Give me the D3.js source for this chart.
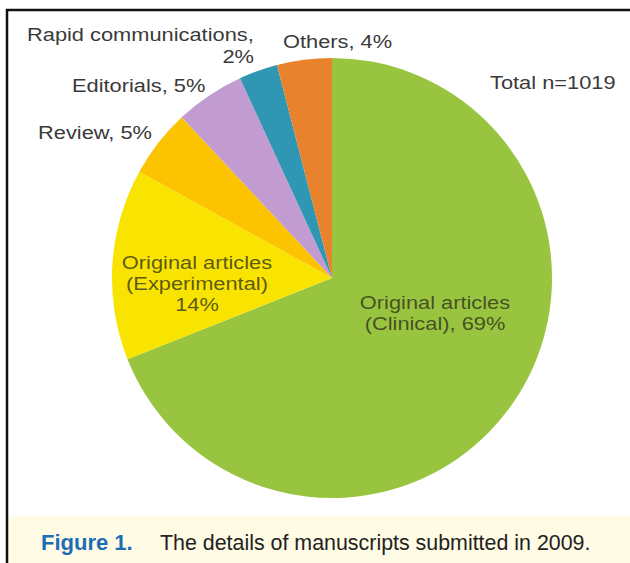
<!DOCTYPE html>
<html>
<head>
<meta charset="utf-8">
<script src="https://cdn.jsdelivr.net/npm/d3@7"></script>
<style>
  html, body { margin: 0; padding: 0; background: #fff; }
  svg { display: block; }
</style>
</head>
<body>
<svg id="chart" width="630" height="563"></svg>
<script>
// Data (n = 1019, slice sizes estimated from the angles)
const categories = ["Original articles (Clinical)", "Original articles (Experimental)", "Review", "Editorials", "Rapid communications", "Others"];
const counts = [703, 143, 51, 52, 29, 41];
const percentLabels = ["69%", "14%", "5%", "5%", "2%", "4%"];
const colors = ["#98c43f", "#f8e400", "#fcc300", "#c29bd0", "#2f96b3", "#e8822c"];
const labelLines = [
  ["Original articles", "(Clinical), 69%"],
  ["Original articles", "(Experimental)", "14%"],
  ["Review, 5%"],
  ["Editorials, 5%"],
  ["Rapid communications,", "2%"],
  ["Others, 4%"]
];

// Layout (text placement, per category)
const labelLayout = [
  {x: 435, y: 309, inside: true, anchors: ["middle", "middle"]},
  {x: 197, y: 269, inside: true, anchors: ["middle", "middle", "middle"]},
  {x: 38, y: 139, anchors: ["start"]},
  {x: 72, y: 92, anchors: ["start"]},
  {x: 27, y: 41, anchors: ["start", "end"], xs: [0, 227]},
  {x: 283, y: 48, anchors: ["start"]}
];

const svg = d3.select("#chart");
const width = +svg.attr("width");
const height = +svg.attr("height");

const cx = 332, cy = 278, radius = 220;
const lineGap = 21;
const stretch = 1.18;
const fontSize = 18.5;

// Frame
svg.append("rect")
  .attr("x", 8).attr("y", 516)
  .attr("width", width - 8).attr("height", height - 516)
  .attr("fill", "#fffbe4");

svg.append("line")
  .attr("x1", 6).attr("y1", 10).attr("x2", width).attr("y2", 10)
  .attr("stroke", "#111").attr("stroke-width", 2.5);
svg.append("line")
  .attr("x1", 7).attr("y1", 9).attr("x2", 7).attr("y2", height)
  .attr("stroke", "#111").attr("stroke-width", 2.5);

// Pie
const pie = d3.pie().sort(null).value(d => d)(counts);
const arc = d3.arc().innerRadius(0).outerRadius(radius);

const g = svg.append("g").attr("transform", `translate(${cx},${cy})`);
g.selectAll("path.slice")
  .data(pie)
  .enter()
  .append("path")
  .attr("class", "slice")
  .attr("d", arc)
  .attr("fill", (d, i) => colors[i]);

// Labels
labelLayout.forEach((lay, i) => {
  labelLines[i].forEach((line, j) => {
    const lx = lay.x + (lay.xs ? lay.xs[j] : 0);
    const ly = lay.y + j * (lay.inside ? lineGap : 22);
    svg.append("g")
      .attr("transform", `translate(${lx},${ly}) scale(${stretch},1)`)
      .append("text")
      .attr("text-anchor", lay.anchors[j])
      .style("font-family", "'Liberation Sans', Arial, sans-serif")
      .style("font-size", fontSize + "px")
      .style("fill", lay.inside ? "#2a2a1a" : "#3a3a3a")
      .style("fill-opacity", lay.inside ? 0.75 : 1)
      .text(line);
  });
});

// Total
svg.append("g")
  .attr("transform", `translate(490,89) scale(${stretch},1)`)
  .append("text")
  .style("font-family", "'Liberation Sans', Arial, sans-serif")
  .style("font-size", fontSize + "px")
  .style("fill", "#3a3a3a")
  .text("Total n=" + d3.sum(counts));

// Caption
svg.append("text")
  .attr("x", 41).attr("y", 550)
  .style("font-family", "'Liberation Sans Narrow', 'Arial Narrow', 'Liberation Sans', sans-serif")
  .style("font-weight", "bold")
  .style("font-size", "22px")
  .style("fill", "#1b6db5")
  .text("Figure 1.");

svg.append("text")
  .attr("x", 160).attr("y", 550)
  .style("font-family", "'Liberation Sans', Arial, sans-serif")
  .style("font-size", "21.4px")
  .style("fill", "#222")
  .text("The details of manuscripts submitted in 2009.");
</script>
</body>
</html>
